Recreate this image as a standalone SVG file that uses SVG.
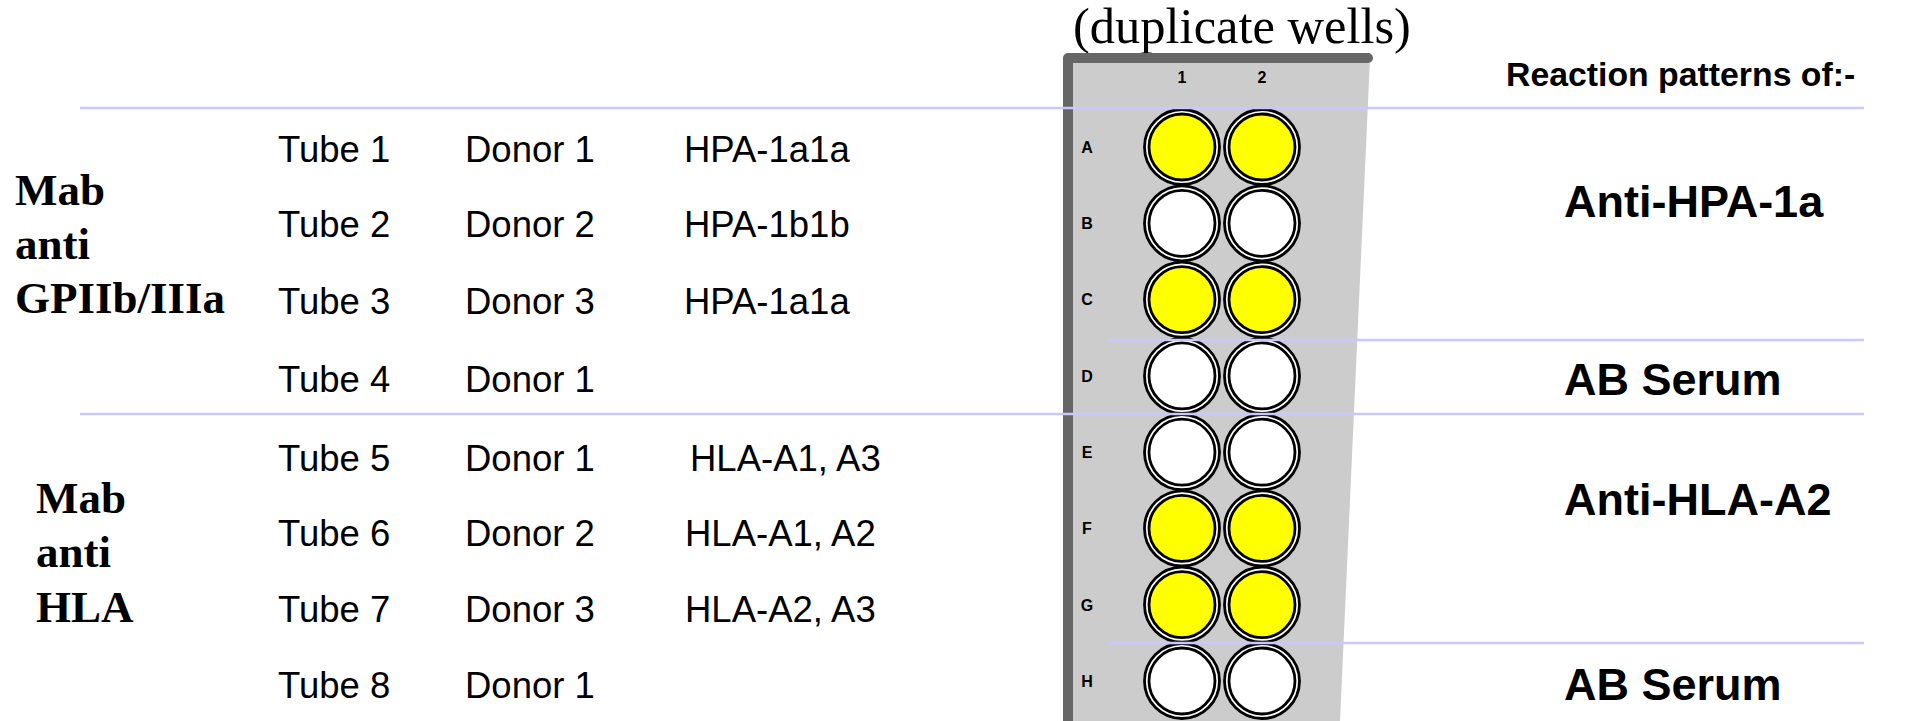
<svg xmlns="http://www.w3.org/2000/svg" width="1906" height="721" viewBox="0 0 1906 721">
<style>
.t{font-family:"Liberation Sans",Arial,sans-serif;font-size:36.5px;fill:#000}
.hb{font-family:"Liberation Serif","Times New Roman",serif;font-size:45px;font-weight:bold;fill:#000}
.rb{font-family:"Liberation Sans",Arial,sans-serif;font-size:45px;font-weight:bold;fill:#000}
.lb{font-family:"Liberation Sans",Arial,sans-serif;font-size:16px;font-weight:bold;fill:#000;text-anchor:middle}
.sep{stroke:#c8c8ff;stroke-width:2.5;fill:none}
.ring{fill:#fff;stroke:#000;stroke-width:2.8}
.y{fill:#ffff00;stroke:#000;stroke-width:2.8}
.w{fill:#fff;stroke:#000;stroke-width:2.8}
</style>
<rect width="1906" height="721" fill="#fff"/>
<text id="title" x="1073" y="43" font-family="'Liberation Serif','Times New Roman',serif" font-size="50.5" fill="#000">(duplicate wells)</text>
<text id="reaction-title" x="1506" y="86" font-family="'Liberation Sans',Arial,sans-serif" font-size="33.8" font-weight="bold" fill="#000">Reaction patterns of:-</text>

<g id="plate">
<polygon points="1068,58 1370,58 1340,721 1068,721" fill="#cccccc"/>
<path d="M1068,730 L1068,58 L1368,58" fill="none" stroke="#666666" stroke-width="10" stroke-linecap="round" stroke-linejoin="round"/>
<text class="lb" x="1182" y="83">1</text>
<text class="lb" x="1262" y="83">2</text>
<text class="lb" x="1087" y="153">A</text>
<text class="lb" x="1087" y="229">B</text>
<text class="lb" x="1087" y="305">C</text>
<text class="lb" x="1087" y="382">D</text>
<text class="lb" x="1087" y="458">E</text>
<text class="lb" x="1087" y="534">F</text>
<text class="lb" x="1087" y="611">G</text>
<text class="lb" x="1087" y="687">H</text>
</g>

<g id="wells">
<g id="row-A"><circle class="ring" cx="1182" cy="147" r="37.5"/><circle class="y" cx="1182" cy="147" r="33"/><circle class="ring" cx="1262" cy="147" r="37.5"/><circle class="y" cx="1262" cy="147" r="33"/></g>
<g id="row-B"><circle class="ring" cx="1182" cy="223.3" r="37.5"/><circle class="w" cx="1182" cy="223.3" r="33"/><circle class="ring" cx="1262" cy="223.3" r="37.5"/><circle class="w" cx="1262" cy="223.3" r="33"/></g>
<g id="row-C"><circle class="ring" cx="1182" cy="299.6" r="37.5"/><circle class="y" cx="1182" cy="299.6" r="33"/><circle class="ring" cx="1262" cy="299.6" r="37.5"/><circle class="y" cx="1262" cy="299.6" r="33"/></g>
<g id="row-D"><circle class="ring" cx="1182" cy="375.9" r="37.5"/><circle class="w" cx="1182" cy="375.9" r="33"/><circle class="ring" cx="1262" cy="375.9" r="37.5"/><circle class="w" cx="1262" cy="375.9" r="33"/></g>
<g id="row-E"><circle class="ring" cx="1182" cy="452.2" r="37.5"/><circle class="w" cx="1182" cy="452.2" r="33"/><circle class="ring" cx="1262" cy="452.2" r="37.5"/><circle class="w" cx="1262" cy="452.2" r="33"/></g>
<g id="row-F"><circle class="ring" cx="1182" cy="528.4" r="37.5"/><circle class="y" cx="1182" cy="528.4" r="33"/><circle class="ring" cx="1262" cy="528.4" r="37.5"/><circle class="y" cx="1262" cy="528.4" r="33"/></g>
<g id="row-G"><circle class="ring" cx="1182" cy="604.7" r="37.5"/><circle class="y" cx="1182" cy="604.7" r="33"/><circle class="ring" cx="1262" cy="604.7" r="37.5"/><circle class="y" cx="1262" cy="604.7" r="33"/></g>
<g id="row-H"><circle class="ring" cx="1182" cy="681" r="37.5"/><circle class="w" cx="1182" cy="681" r="33"/><circle class="ring" cx="1262" cy="681" r="37.5"/><circle class="w" cx="1262" cy="681" r="33"/></g>
</g>

<g id="connectors">
<line class="sep" x1="80" y1="108" x2="1864" y2="108"/>
<line class="sep" x1="1108" y1="340" x2="1864" y2="340"/>
<line class="sep" x1="80" y1="414" x2="1864" y2="414"/>
<line class="sep" x1="1108" y1="643" x2="1864" y2="643"/>
</g>

<g id="group-gp">
<text class="hb" x="15" y="205">Mab</text>
<text class="hb" x="15" y="259">anti</text>
<text class="hb" x="15" y="313">GPIIb/IIIa</text>
</g>
<g id="group-hla">
<text class="hb" x="36" y="513">Mab</text>
<text class="hb" x="36" y="567">anti</text>
<text class="hb" x="36" y="622">HLA</text>
</g>

<g id="tube-1"><text class="t" x="278" y="162">Tube 1</text><text class="t" x="465" y="162">Donor 1</text><text class="t" x="684" y="162">HPA-1a1a</text></g>
<g id="tube-2"><text class="t" x="278" y="237">Tube 2</text><text class="t" x="465" y="237">Donor 2</text><text class="t" x="684" y="237">HPA-1b1b</text></g>
<g id="tube-3"><text class="t" x="278" y="314">Tube 3</text><text class="t" x="465" y="314">Donor 3</text><text class="t" x="684" y="314">HPA-1a1a</text></g>
<g id="tube-4"><text class="t" x="278" y="392">Tube 4</text><text class="t" x="465" y="392">Donor 1</text></g>
<g id="tube-5"><text class="t" x="278" y="471">Tube 5</text><text class="t" x="465" y="471">Donor 1</text><text class="t" x="690" y="471">HLA-A1, A3</text></g>
<g id="tube-6"><text class="t" x="278" y="546">Tube 6</text><text class="t" x="465" y="546">Donor 2</text><text class="t" x="685" y="546">HLA-A1, A2</text></g>
<g id="tube-7"><text class="t" x="278" y="622">Tube 7</text><text class="t" x="465" y="622">Donor 3</text><text class="t" x="685" y="622">HLA-A2, A3</text></g>
<g id="tube-8"><text class="t" x="278" y="698">Tube 8</text><text class="t" x="465" y="698">Donor 1</text></g>

<g id="result-1"><text class="rb" x="1564" y="217">Anti-HPA-1a</text></g>
<g id="result-2"><text class="rb" x="1564" y="395">AB Serum</text></g>
<g id="result-3"><text class="rb" x="1564" y="515">Anti-HLA-A2</text></g>
<g id="result-4"><text class="rb" x="1564" y="700">AB Serum</text></g>
</svg>
